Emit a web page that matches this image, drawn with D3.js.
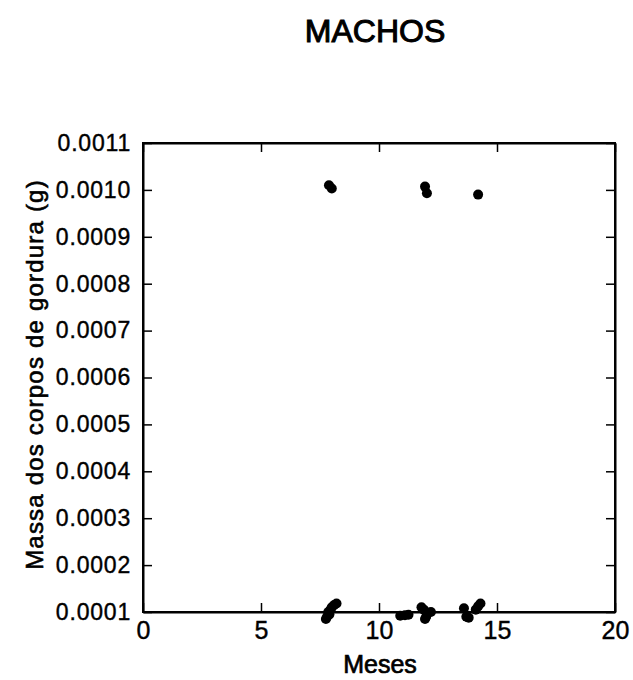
<!DOCTYPE html>
<html>
<head>
<meta charset="utf-8">
<script src="https://cdn.jsdelivr.net/npm/d3@7"></script>
<style>
  body { margin: 0; background: #fff; }
  svg { display: block; font-family: "Liberation Sans", Arial, sans-serif; }
</style>
</head>
<body>
<script>
// Data: month, fat body mass (g)
const meses = [7.88, 8.0, 11.95, 12.03, 14.2,
  7.75, 7.8, 7.85, 7.9, 7.95, 8.0, 8.1, 8.2,
  10.9, 11.1, 11.25,
  11.8, 11.9, 11.95, 12.0, 12.05, 12.2,
  13.6, 13.7, 13.8, 14.1, 14.2, 14.3];
const massa = [0.00101, 0.001003, 0.001007, 0.000993, 0.00099,
  0.000085, 0.00009, 0.0001, 0.000095, 0.000105, 0.00011, 0.000115, 0.000118,
  0.000092, 0.000093, 0.000094,
  0.00011, 0.000105, 0.000085, 0.00009, 0.000098, 0.0001,
  0.000108, 0.00009, 0.000088, 0.000105, 0.000112, 0.000118];
const xTicks = [0, 5, 10, 15, 20];
const yTicks = d3.range(1, 12).map(d => d / 10000);

const width = 633, height = 680;
const margin = {top: 143, right: 18, bottom: 68, left: 143};

const x = d3.scaleLinear().domain([0, 20]).range([margin.left, width - margin.right]);
const y = d3.scaleLinear().domain([0.0001, 0.0011]).range([height - margin.bottom, margin.top]);

const svg = d3.select("body").append("svg")
    .attr("width", width)
    .attr("height", height);

const fmt = d3.format(".4f");

// scanned-looking text: regular face with a thin outline
const inked = (sel, w) => sel.attr("fill", "#000").attr("stroke", "#000").attr("stroke-width", w);

// bottom axis, ticks pointing in
svg.append("g")
    .attr("transform", `translate(0,${y(0.0001)})`)
    .call(d3.axisBottom(x).tickValues(xTicks).tickSizeInner(-9).tickSizeOuter(0).tickPadding(9))
    .call(g => g.selectAll("text").attr("font-size", 25).call(inked, 0.4));

// top axis
svg.append("g")
    .attr("transform", `translate(0,${y(0.0011)})`)
    .call(d3.axisTop(x).tickValues(xTicks).tickSizeInner(-9).tickSizeOuter(0).tickFormat(""));

// left axis
svg.append("g")
    .attr("transform", `translate(${x(0)},0)`)
    .call(d3.axisLeft(y).tickValues(yTicks).tickSizeInner(-9).tickSizeOuter(0).tickPadding(12).tickFormat(fmt))
    .call(g => g.selectAll("text").attr("font-size", 23).attr("letter-spacing", 0.8).call(inked, 0.4));

// right axis
svg.append("g")
    .attr("transform", `translate(${x(20)},0)`)
    .call(d3.axisRight(y).tickValues(yTicks).tickSizeInner(-9).tickSizeOuter(0).tickFormat(""));

svg.selectAll(".domain").attr("stroke-width", 2);
svg.selectAll(".tick line").attr("stroke-width", 1.5);

// frame
svg.append("rect")
    .attr("x", x(0)).attr("y", y(0.0011))
    .attr("width", x(20) - x(0)).attr("height", y(0.0001) - y(0.0011))
    .attr("fill", "none").attr("stroke", "#000").attr("stroke-width", 2);

// points
svg.append("g")
  .selectAll("circle")
  .data(d3.range(meses.length))
  .join("circle")
    .attr("cx", i => x(meses[i]))
    .attr("cy", i => y(massa[i]))
    .attr("r", 5)
    .attr("fill", "#000");

// titles
svg.append("text")
    .attr("x", 375).attr("y", 42)
    .attr("text-anchor", "middle")
    .attr("font-size", 32)
    .call(inked, 1)
    .text("MACHOS");

svg.append("text")
    .attr("x", 380).attr("y", 673)
    .attr("text-anchor", "middle")
    .attr("font-size", 25)
    .call(inked, 0.7)
    .text("Meses");

svg.append("text")
    .attr("transform", `translate(43,${(y(0.0001) + y(0.0011)) / 2 - 3}) rotate(-90)`)
    .attr("text-anchor", "middle")
    .attr("font-size", 24)
    .attr("letter-spacing", 1.2)
    .call(inked, 0.6)
    .text("Massa dos corpos de gordura (g)");
</script>
</body>
</html>
